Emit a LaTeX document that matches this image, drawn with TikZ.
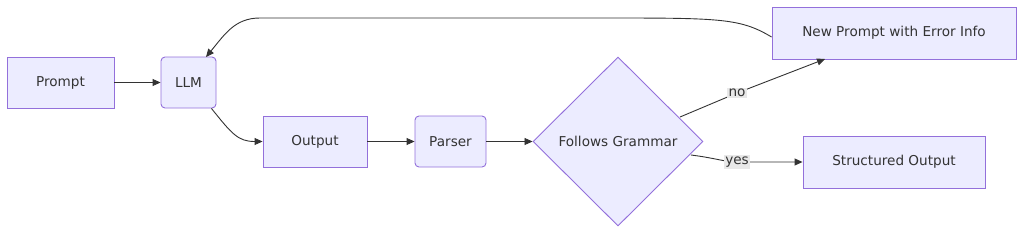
\documentclass[tikz,border=0pt]{standalone}
\usepackage{fontspec}
\setmainfont{DejaVu Sans}
\usetikzlibrary{shapes.geometric,arrows.meta}
\definecolor{nfill}{HTML}{ECECFF}
\definecolor{nline}{HTML}{9370DB}
\definecolor{eline}{HTML}{333333}
\definecolor{lblbg}{HTML}{E8E8E8}
\tikzset{
  box/.style={draw=nline, fill=nfill, line width=0.9pt, text=eline, font=\fontsize{13.6}{16}\selectfont, inner sep=0pt},
  rbox/.style={box, rounded corners=4pt},
  conn/.style={draw=eline, line width=0.9pt, -{Triangle[length=8pt,width=7pt]}},
  elabel/.style={fill=lblbg, text=eline, font=\fontsize{13.6}{16}\selectfont, inner sep=1.5pt}
}
\begin{document}
\begin{tikzpicture}[x=1pt,y=1pt]
\useasboundingbox (0,0) rectangle (1024,234);
\node[box, minimum width=107pt, minimum height=51pt] (prompt) at (60.5,151.5) {Prompt};
\node[rbox, minimum width=55pt, minimum height=51pt] (llm) at (188.5,151.5) {LLM};
\node[box, minimum width=104pt, minimum height=51pt] (output) at (315,92.5) {Output};
\node[rbox, minimum width=71pt, minimum height=51pt] (parser) at (450.5,92.5) {Parser};
\node[box, diamond, minimum width=170pt, minimum height=169pt] (fg) at (618,92.5) {Follows Grammar};
\node[box, minimum width=244pt, minimum height=52pt] (newp) at (894,201) {New Prompt with Error Info};
\node[box, minimum width=182pt, minimum height=52pt] (sout) at (894,72) {Structured Output};
\coordinate (nlbl) at (737,141);
\coordinate (ylbl) at (737,72);
\draw[conn] (prompt) -- (llm);
\draw[conn] (llm.south east) ++(-5,0) .. controls (232,100) and (238,92.5) .. (output.west);
\draw[conn] (output) -- (parser);
\draw[conn] (parser) -- (fg);
\draw[conn] (680,117) -- (nlbl) -- (825,175);
\draw[conn] (691,79) .. controls (715,76) and (725,72) .. (ylbl) -- (sout.west);
\draw[conn] (newp.west) ++(0,-4) .. controls (740,216) and (720,216) .. (600,216) -- (260,216) .. controls (235,216) and (225,200) .. (206,177);
\node[elabel] (nol) at (nlbl) {no};
\node[elabel] (yesl) at (ylbl) {yes};
\end{tikzpicture}
\end{document}
